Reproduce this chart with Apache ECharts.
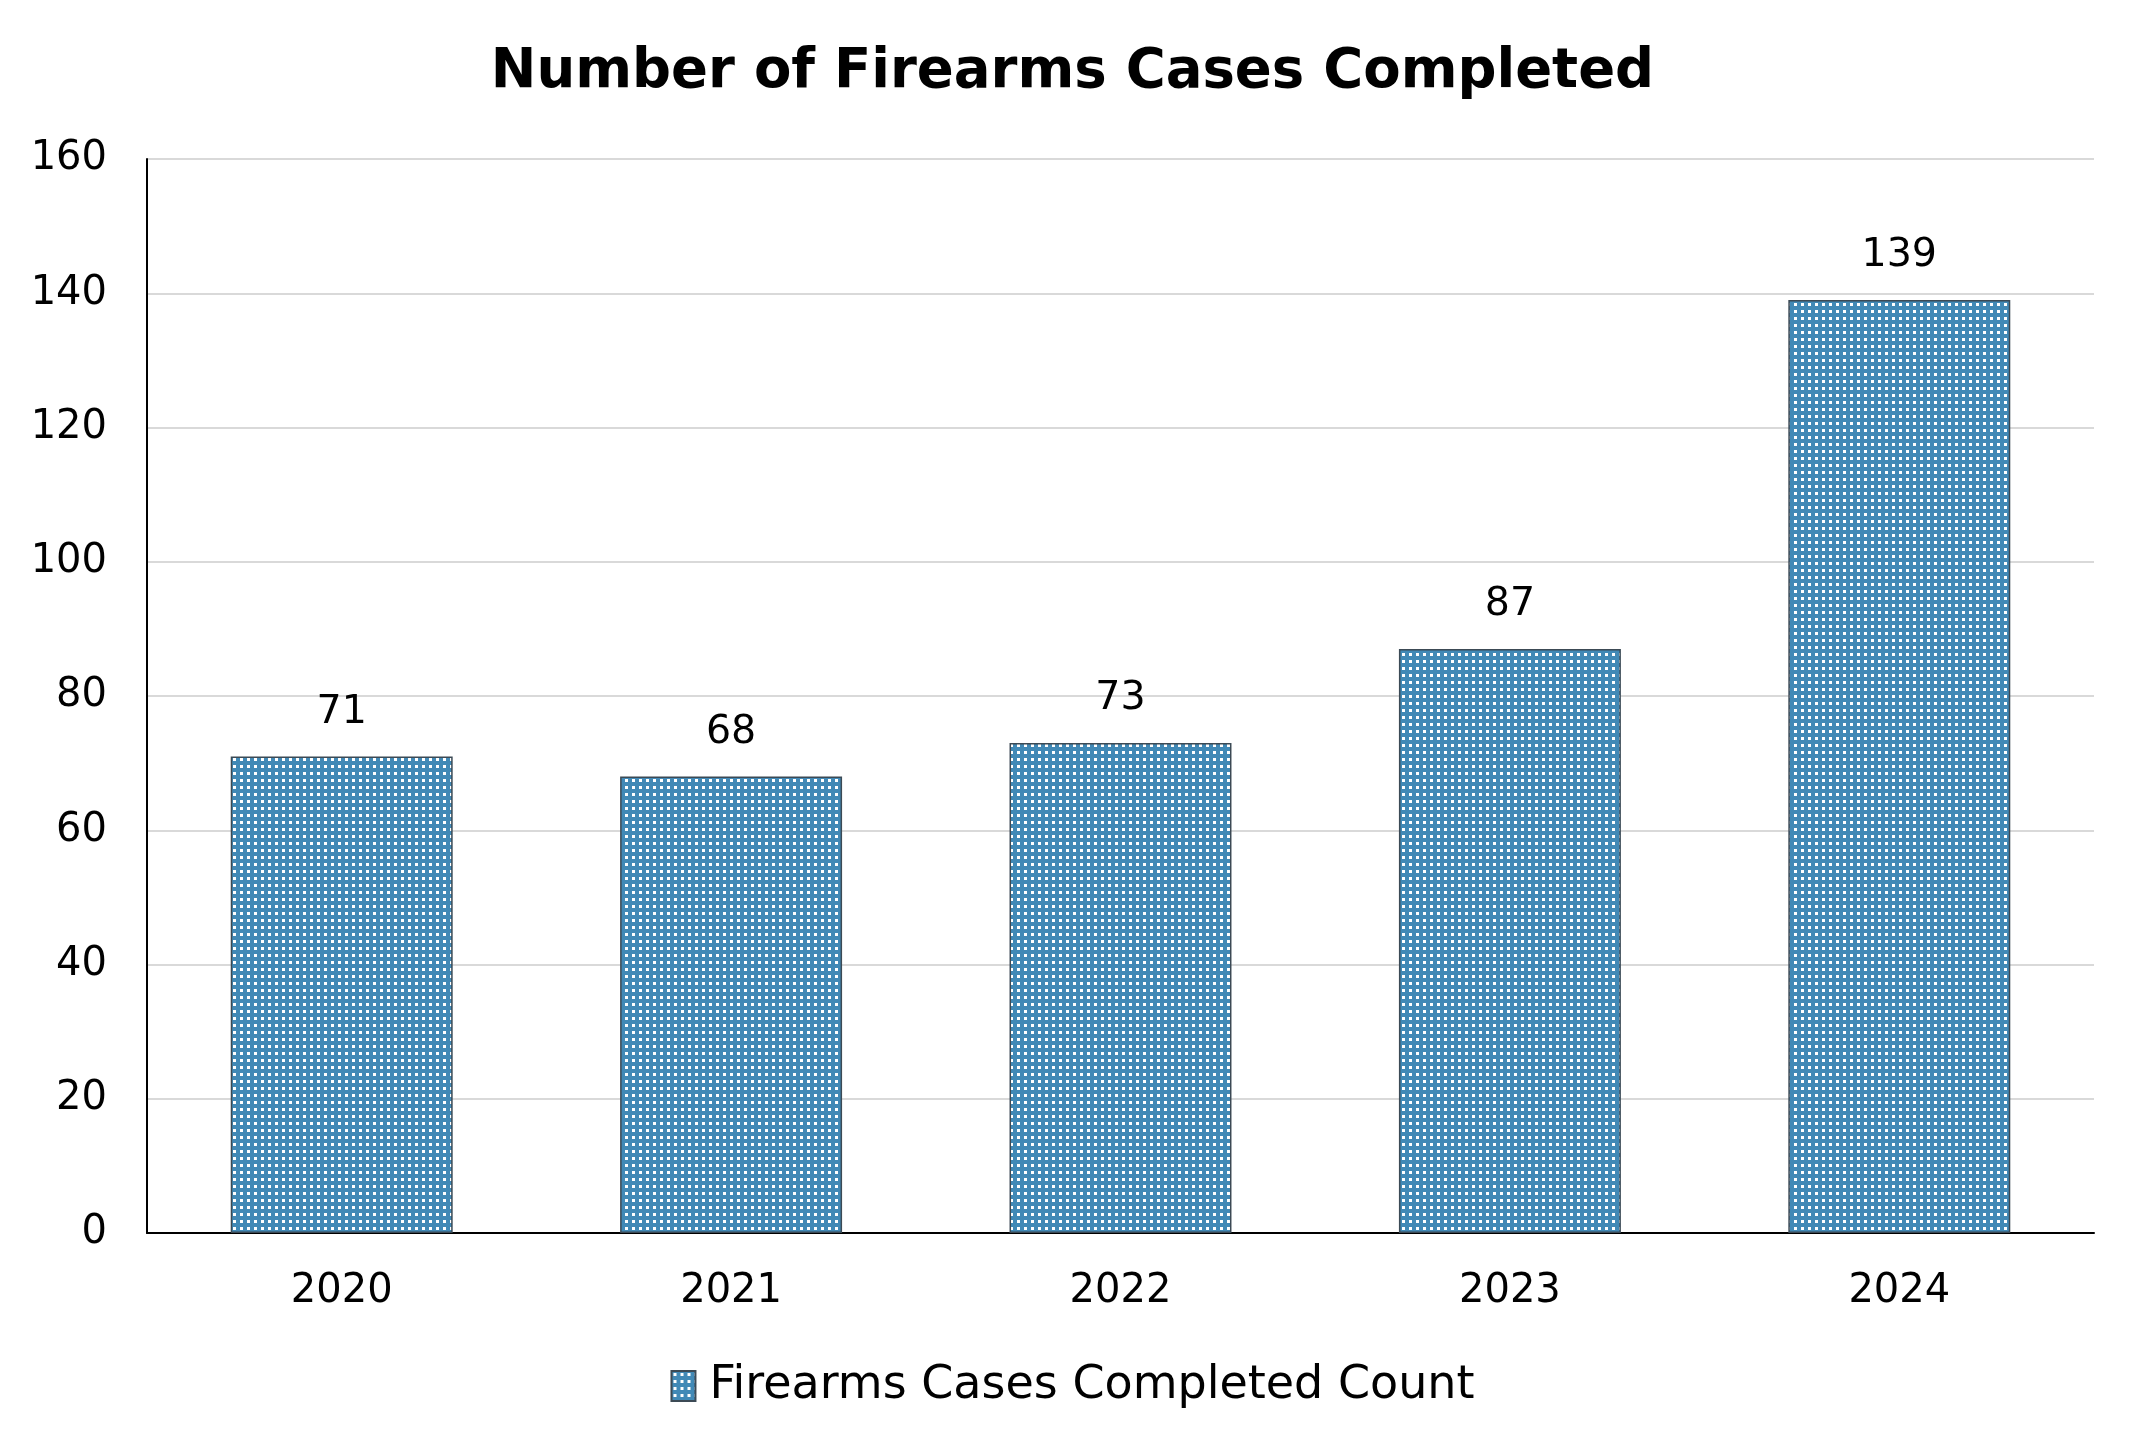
<!DOCTYPE html>
<html>
<head>
<meta charset="utf-8">
<title>Number of Firearms Cases Completed</title>
<script src="https://cdn.jsdelivr.net/npm/echarts@6/dist/echarts.min.js"></script>
<style>
html, body { margin: 0; padding: 0; background: #fff; }
#main { width: 2145px; height: 1452px; }
</style>
</head>
<body>
<div id="main"></div>
<script>
// data
var years = ['2020', '2021', '2022', '2023', '2024'];
var caseCounts = [71, 68, 73, 87, 139];
var yTicks = [0, 20, 40, 60, 80, 100, 120, 140, 160];

// dotted fill like the original bars
function makeDots() {
	var c = document.createElement('canvas');
	c.width = 7;
	c.height = 7;
	var ctx = c.getContext('2d');
	ctx.fillStyle = '#4189b6';
	ctx.fillRect(0, 0, 7, 7);
	ctx.fillStyle = '#ffffff';
	ctx.fillRect(2, 2, 3, 3);
	return c;
}

var myChart = echarts.init(document.getElementById('main'));
var fontName = 'DejaVu Sans';

var option = {
	backgroundColor: '#ffffff',
	title: {
		text: 'Number of Firearms Cases Completed',
		left: 'center',
		top: 40,
		textStyle: { fontFamily: fontName, fontSize: 54.5, fontWeight: 'bold', color: '#000' }
	},
	legend: {
		bottom: 38,
		left: 'center',
		icon: 'rect',
		itemWidth: 24,
		itemHeight: 30,
		itemGap: 10,
		textStyle: { fontFamily: fontName, fontSize: 46, color: '#000', padding: [0, 0, 0, 9] },
		data: ['Firearms Cases Completed Count']
	},
	grid: { left: 147, right: 51, top: 159, bottom: 219 },
	xAxis: {
		type: 'category',
		data: years,
		axisLine: { lineStyle: { color: '#000', width: 2 } },
		axisTick: { show: false },
		axisLabel: { fontFamily: fontName, fontSize: 40, color: '#000', margin: 39 }
	},
	yAxis: {
		type: 'value',
		min: yTicks[0],
		max: yTicks[yTicks.length - 1],
		interval: 20,
		axisLine: { show: true, lineStyle: { color: '#000', width: 2 } },
		axisTick: { show: false },
		splitLine: { lineStyle: { color: '#d9d9d9', width: 2 } },
		axisLabel: { fontFamily: fontName, fontSize: 40, color: '#000', margin: 40 }
	},
	series: [{
		name: 'Firearms Cases Completed Count',
		type: 'bar',
		data: caseCounts,
		barWidth: '57%',
		itemStyle: {
			color: { image: makeDots(), repeat: 'repeat' },
			borderColor: '#3c4a55',
			borderWidth: 1.5
		},
		label: {
			show: true,
			position: 'top',
			distance: 24,
			fontFamily: fontName,
			fontSize: 39.5,
			color: '#000'
		}
	}]
};

myChart.setOption(option);
</script>
</body>
</html>
